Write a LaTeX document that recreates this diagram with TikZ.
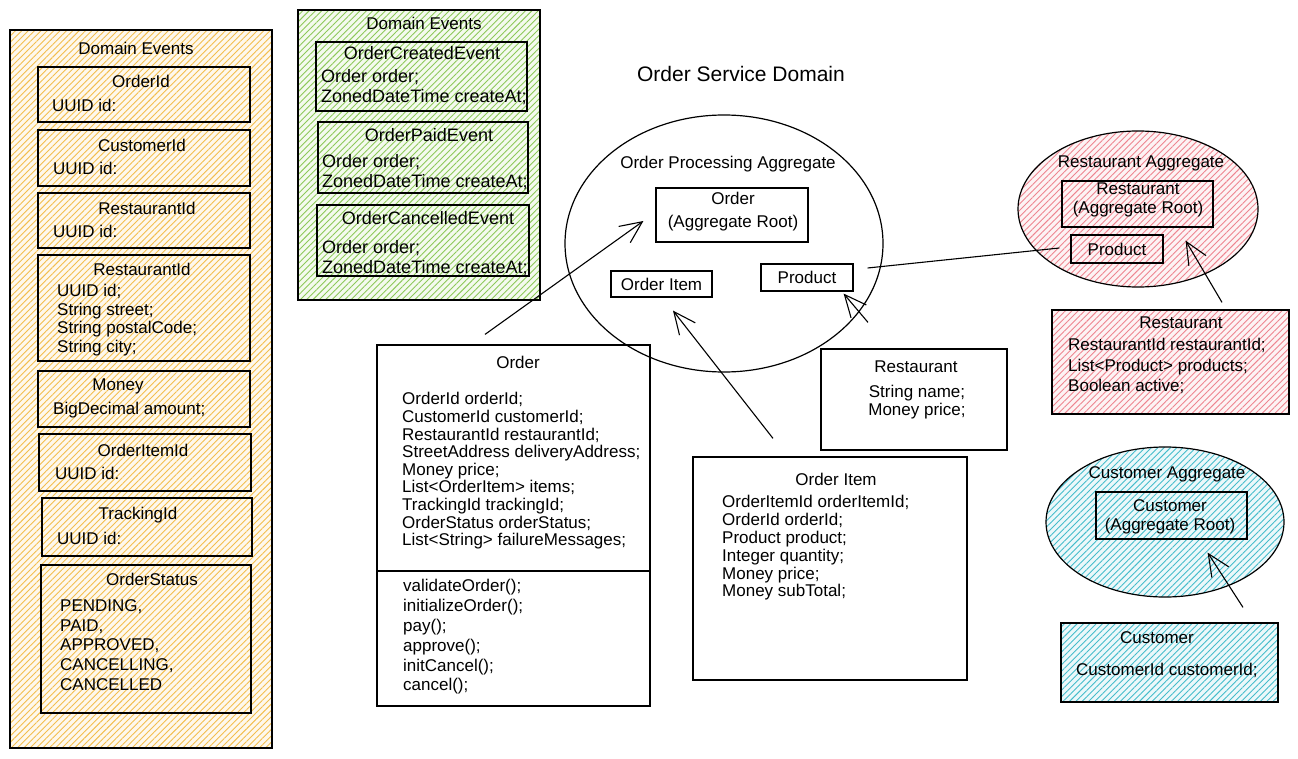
\documentclass[tikz,border=0pt]{standalone}
\usepackage{fontspec}
\setmainfont{Liberation Sans}
\usetikzlibrary{shapes.geometric, patterns.meta, arrows.meta, positioning}
\definecolor{hatchy}{HTML}{F3BE4E}
\definecolor{hatchg}{HTML}{8DC95A}
\definecolor{hatchr}{HTML}{EE8590}
\definecolor{hatchb}{HTML}{45BCCB}
\tikzset{
  every node/.style={font=\fontsize{17}{18}\selectfont, inner sep=0pt},
  wh/.style 2 args={minimum width=#1, minimum height=#2},
  box/.style={draw, line width=1.2pt},
  hatch/.style={preaction={fill=#1!10}, pattern={Lines[angle=45,distance=4.5pt,line width=0.9pt]}, pattern color=#1},
  field/.style={anchor=west, align=left},
  arr/.style={-{Straight Barb[length=22pt,width=20pt]}, line width=1.1pt},
}

\begin{document}
\begin{tikzpicture}[x=1pt, y=-1pt]
\useasboundingbox (0,0) rectangle (1298,759);

% value objects (yellow)
\node[box, hatch=hatchy, wh={262}{718}] (vo) at (141,389) {};
\node (vo-title) at (136,48) {Domain Events};

\node[box, wh={212}{55}] (oid) at (144,94.5) {};
\node (oid-name) at (141,81) {OrderId};
\node[field] (oid-body) at (52,105) {UUID id:};

\node[box, wh={212}{56}] (cid) at (144,158) {};
\node (cid-name) at (142,145) {CustomerId};
\node[field] (cid-body) at (53,168) {UUID id:};

\node[box, wh={212}{55}] (rid) at (144,220.5) {};
\node (rid-name) at (147,208) {RestaurantId};
\node[field] (rid-body) at (53,231) {UUID id:};

\node[box, wh={212}{106}] (addr) at (144,308) {};
\node (addr-name) at (142,269) {RestaurantId};
\node[field, font=\fontsize{17}{18.5}\selectfont] (addr-body) at (57,320)
  {UUID id;\\String street;\\String postalCode;\\String city;};

\node[box, wh={212}{56}] (money) at (144,399) {};
\node (money-name) at (118,386) {Money};
\node[field] (money-body) at (53,410) {BigDecimal amount;};

\node[box, wh={212}{57}] (oiid) at (145,462.5) {};
\node (oiid-name) at (143,450) {OrderItemId};
\node[field] (oiid-body) at (55,473) {UUID id:};

\node[box, wh={210}{58}] (tid) at (147,527) {};
\node (tid-name) at (138,515) {TrackingId};
\node[field] (tid-body) at (57,538) {UUID id:};

\node[box, wh={210}{148}] (ostat) at (146,639) {};
\node (ostat-name) at (152,579) {OrderStatus};
\node[field, font=\fontsize{17}{19.7}\selectfont] (ostat-body) at (60,645)
  {PENDING,\\PAID,\\APPROVED,\\CANCELLING,\\CANCELLED};

% domain events (green)
\node[box, hatch=hatchg, wh={242}{290}] (ev) at (419,155) {};
\node (ev-title) at (424,23) {Domain Events};

\node[box, wh={211}{69}] (oce) at (421.5,76.5) {};
\node[font=\fontsize{18}{20}\selectfont] (oce-name) at (422,53) {OrderCreatedEvent};
\node[field, font=\fontsize{18}{20}\selectfont] (oce-body) at (321,87)
  {Order order;\\ZonedDateTime createAt;};

\node[box, wh={210}{71}] (ope) at (423,157.5) {};
\node[font=\fontsize{18}{20}\selectfont] (ope-name) at (429,135) {OrderPaidEvent};
\node[field, font=\fontsize{18}{20}\selectfont] (ope-body) at (322,172)
  {Order order;\\ZonedDateTime createAt;};

\node[box, wh={212}{71}] (occ) at (423,240.5) {};
\node[font=\fontsize{18}{20}\selectfont] (occ-name) at (428,218) {OrderCancelledEvent};
\node[field, font=\fontsize{18}{20}\selectfont] (occ-body) at (322,258)
  {Order order;\\ZonedDateTime createAt;};

% order processing aggregate
\node[font=\fontsize{21}{24}\selectfont] (domain) at (741,74) {Order Service Domain};
\node[box, ellipse, wh={318}{257}] (opagg) at (724,243.5) {};
\node (opagg-title) at (728,164) {Order Processing Aggregate};
\node[box, wh={152}{54}] (ordroot) at (732,215) {};
\node[align=center, font=\fontsize{17}{23}\selectfont] (ordroot-txt) at (733,212) {Order\\(Aggregate Root)};
\node[box, wh={101}{26}] (oibox) at (661.5,284) {Order Item};
\node[box, wh={92}{27}] (prod) at (807,277.5) {Product};

% order class
\node[box, wh={273}{361}] (ordcls) at (513.5,525.5) {};
\draw[line width=1.2pt] (ordcls.west |- 0,571) -- (ordcls.east |- 0,571);
\node (ordcls-name) at (518,362) {Order};
\node[field, font=\fontsize{17}{17.6}\selectfont] (ordcls-body) at (402,471)
  {OrderId orderId;\\CustomerId customerId;\\RestaurantId restaurantId;\\StreetAddress deliveryAddress;\\Money price;\\List<OrderItem> items;\\TrackingId trackingId;\\OrderStatus orderStatus;\\List<String> failureMessages;};
\node[field, font=\fontsize{17}{19.8}\selectfont] (ordcls-ops) at (403,637)
  {validateOrder();\\initializeOrder();\\pay();\\approve();\\initCancel();\\cancel();};

% restaurant (value) and order item class
\node[box, wh={186}{101}] (rest) at (914,399.5) {};
\node (rest-name) at (916,367) {Restaurant};
\node[align=center] (rest-body) at (917,402) {String name;\\Money price;};

\node[box, wh={274}{223}] (oicls) at (830,568.5) {};
\node (oicls-name) at (836,479) {Order Item};
\node[field, font=\fontsize{17}{17.8}\selectfont] (oicls-body) at (722,548)
  {OrderItemId orderItemId;\\OrderId orderId;\\Product product;\\Integer quantity;\\Money price;\\Money subTotal;};

% restaurant aggregate (red)
\node[box, ellipse, hatch=hatchr, wh={240}{156}] (ragg) at (1138,209) {};
\node (ragg-title) at (1141,163) {Restaurant Aggregate};
\node[box, wh={151}{46}] (rroot) at (1137.5,204) {};
\node[align=center, font=\fontsize{17}{19.5}\selectfont] (rroot-txt) at (1138,200) {Restaurant\\(Aggregate Root)};
\node[box, wh={92}{28}] (rprod) at (1117,249) {Product};

\node[box, hatch=hatchr, wh={237}{104}] (rcls) at (1170.5,362) {};
\node (rcls-name) at (1181,323) {Restaurant};
\node[field, font=\fontsize{17}{20.5}\selectfont] (rcls-body) at (1068,366)
  {RestaurantId restaurantId;\\List<Product> products;\\Boolean active;};

% customer aggregate (blue)
\node[box, ellipse, hatch=hatchb, wh={238}{150}] (cagg) at (1165,522) {};
\node (cagg-title) at (1167,474) {Customer Aggregate};
\node[box, wh={151}{47}] (croot) at (1171.5,515.5) {};
\node[align=center, font=\fontsize{17}{18.5}\selectfont] (croot-txt) at (1170,517) {Customer\\(Aggregate Root)};

\node[box, hatch=hatchb, wh={217}{79}] (ccls) at (1169.5,662.5) {};
\node (ccls-name) at (1157,638) {Customer};
\node[field] (ccls-body) at (1076,670) {CustomerId customerId;};

% connectors
\draw[arr] ([shift={(-28.5,-10)}]ordcls.north) -- ([shift={(-12,6)}]ordroot.west);
\draw[arr] ([shift={(-57,-18)}]oicls.north) -- ([shift={(11.5,13)}]oibox.south);
\draw[arr] ([shift={(-46,-26)}]rest.north) -- ([shift={(-10,2)}]prod.south east);
\draw[line width=1.1pt] ([shift={(14,-9.5)}]prod.east) -- ([shift={(-11,-1)}]rprod.west);
\draw[arr] ([shift={(51.5,-7)}]rcls.north) -- ([shift={(-28,13)}]rroot.south east);
\draw[arr] ([shift={(73.5,-15)}]ccls.north) -- ([shift={(-40,13)}]croot.south east);
\end{tikzpicture}
\end{document}
